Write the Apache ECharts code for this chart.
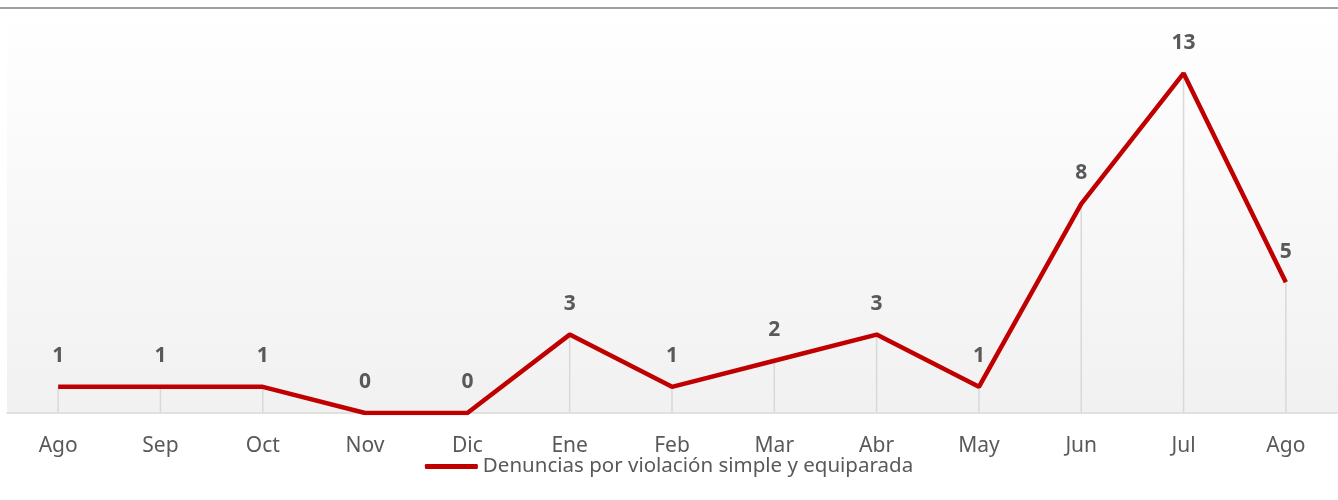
<!DOCTYPE html>
<html>
<head>
<meta charset="utf-8">
<script src="https://cdn.jsdelivr.net/npm/echarts@6/dist/echarts.min.js"></script>
<style>html,body{margin:0;padding:0;background:#fff;}#c{width:1338px;height:500px;}</style>
</head>
<body>
<div id="c"></div>
<script>
const categories = ['Ago','Sep','Oct','Nov','Dic','Ene','Feb','Mar','Abr','May','Jun','Jul','Ago'];
const values = [1,1,1,0,0,3,1,2,3,1,8,13,5];
const seriesName = 'Denuncias por violación simple y equiparada';

const chart = echarts.init(document.getElementById('c'));
const font = '"Noto Sans", sans-serif';
chart.setOption({
  animation: false,
  backgroundColor: '#fff',
  graphic: [
    { type: 'rect', z: -10, shape: { x: 7, y: 9, width: 1331, height: 404 },
      style: { fill: new echarts.graphic.LinearGradient(0, 0, 0, 1, [
        { offset: 0, color: '#ffffff' }, { offset: 1, color: '#f1f1f1' }]) } },
    { type: 'rect', z: 10, shape: { x: 0, y: 7, width: 1338, height: 2 },
      style: { fill: '#a0a0a0' } }
  ],
  grid: { left: 7, right: 1, top: 21, bottom: 87 },
  legend: {
    data: [seriesName],
    bottom: 18,
    left: 'center',
    icon: 'roundRect',
    itemWidth: 53,
    itemHeight: 5,
    itemGap: 5,
    textStyle: { color: '#595959', fontSize: 20.5, fontFamily: font }
  },
  xAxis: {
    type: 'category',
    data: categories,
    boundaryGap: true,
    axisLine: { show: true, lineStyle: { color: '#d9d9d9', width: 1.5 } },
    axisTick: { show: false },
    axisLabel: { color: '#595959', fontSize: 21, fontFamily: font, margin: 23 }
  },
  yAxis: {
    type: 'value', min: 0, max: 15,
    show: false,
    splitLine: { show: false }
  },
  series: [
    {
      name: 'drop',
      type: 'bar',
      data: values,
      barWidth: 1.5,
      silent: true,
      itemStyle: { color: '#d9d9d9' },
      z: 1
    },
    {
      name: seriesName,
      type: 'line',
      data: values,
      symbol: 'circle',
      symbolSize: 0.1,
      lineStyle: { color: '#c00000', width: 4.5 },
      itemStyle: { color: '#c00000' },
      z: 3,
      label: {
        show: true,
        position: 'top',
        distance: 20,
        color: '#595959',
        fontSize: 21,
        fontWeight: 'bold',
        fontFamily: font
      }
    }
  ]
});
</script>
</body>
</html>
